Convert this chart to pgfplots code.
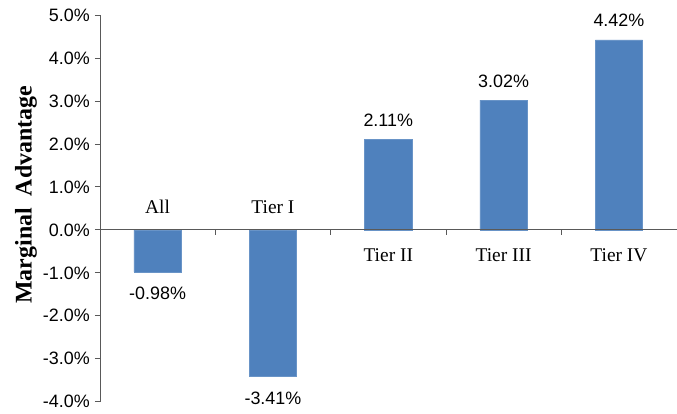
\documentclass[border=0pt]{standalone}
\usepackage{fontspec}
\setmainfont{Liberation Serif}
\newfontfamily\arial{Liberation Sans}
\usepackage{pgfplots}
\pgfplotsset{compat=1.18}
\definecolor{barblue}{HTML}{4F81BD}
\definecolor{axgray}{HTML}{595959}
\begin{document}
\begin{tikzpicture}
\begin{axis}[
  scale only axis,
  width=577bp, height=387bp,
  xmin=-0.5, xmax=4.5,
  ymin=-4, ymax=5,
  axis x line=none,
  axis y line*=left,
  y axis line style={-, axgray, line width=0.8pt},
  ytick={-4,-3,...,5},
  tick align=outside,
  major tick length=5bp,
  ytick style={axgray, line width=0.8pt},
  /pgf/number format/assume math mode=true,
  yticklabel style={font=\arial\fontsize{18}{20}\selectfont, text=black, inner sep=5bp},
  yticklabel={\pgfmathprintnumber[fixed,fixed zerofill,precision=1]{\tick}\%},
  clip=false,
]
\addplot[ybar, bar width=0.41, fill=barblue, draw=barblue!85!white] coordinates {
  (0,-0.98) (1,-3.41) (2,2.11) (3,3.02) (4,4.42)
};
% zero line and category ticks
\draw[axgray, line width=0.8pt] (axis cs:-0.5,0) -- (axis cs:4.5,0);
\draw[axgray, line width=0.8pt] (axis cs:0.5,0) -- ([yshift=-5bp]axis cs:0.5,0);
\draw[axgray, line width=0.8pt] (axis cs:1.5,0) -- ([yshift=-5bp]axis cs:1.5,0);
\draw[axgray, line width=0.8pt] (axis cs:2.5,0) -- ([yshift=-5bp]axis cs:2.5,0);
\draw[axgray, line width=0.8pt] (axis cs:3.5,0) -- ([yshift=-5bp]axis cs:3.5,0);
% category labels
\begin{scope}[every node/.style={font=\fontsize{19.5}{21}\selectfont, anchor=base, inner sep=0pt}]
\node at ([yshift=16bp]axis cs:0,0) {All};
\node at ([yshift=16bp]axis cs:1,0) {Tier I};
\node at ([yshift=-32bp]axis cs:2,0) {Tier II};
\node at ([yshift=-32bp]axis cs:3,0) {Tier III};
\node at ([yshift=-32bp]axis cs:4,0) {Tier IV};
\end{scope}
% value labels
\begin{scope}[every node/.style={font=\arial\fontsize{18}{20}\selectfont, anchor=base, inner sep=0pt}]
\node at ([yshift=-28bp]axis cs:0,-0.98) {-0.98\%};
\node at ([yshift=-28bp]axis cs:1,-3.41) {-3.41\%};
\node at ([yshift=13bp]axis cs:2,2.11) {2.11\%};
\node at ([yshift=13bp]axis cs:3,3.02) {3.02\%};
\node at ([yshift=13bp]axis cs:4,4.42) {4.42\%};
\end{scope}
% y label
\node[rotate=90, font=\bfseries\fontsize{24}{26}\selectfont, inner sep=0pt] at ([xshift=-74bp]rel axis cs:0,0.535) {Marginal\ \ Advantage};
% bounding box
\path ([xshift=-100bp,yshift=-12bp]rel axis cs:0,0) -- ([yshift=15bp]rel axis cs:1,1);
\end{axis}
\end{tikzpicture}
\end{document}
